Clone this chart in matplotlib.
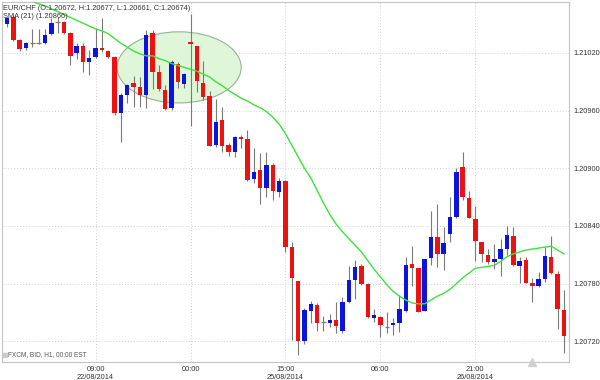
import matplotlib
matplotlib.use("Agg")
import matplotlib.pyplot as plt
import numpy as np
from matplotlib.patches import Ellipse
from matplotlib import font_manager

# pick a condensed font if there is one
_names = {f.name for f in font_manager.fontManager.ttflist}
NARROW = "Liberation Sans Narrow" in _names
FONT = "Liberation Sans Narrow" if NARROW else "Liberation Sans"
plt.rcParams["font.family"] = [FONT, "DejaVu Sans"]
FS = 6.2 if NARROW else 5.3

# ── Data (EUR/CHF, H1 candles) ───────────────────────────────────────────────
opens = [1.21050, 1.21057, 1.21033, 1.21025, 1.21030, 1.21030, 1.21030, 1.21040, 1.21052, 1.21052,
         1.21041, 1.21020, 1.21027, 1.21011, 1.21016, 1.21025, 1.21022, 1.21016, 1.20958, 1.20976,
         1.20989, 1.20985, 1.20976, 1.21041, 1.21000, 1.20981, 1.20963, 1.21008, 1.20988, 1.21031,
         1.21027, 1.20989, 1.20975, 1.20924, 1.20950, 1.20924, 1.20917, 1.20933, 1.20931, 1.20889,
         1.20898, 1.20880, 1.20903, 1.20875, 1.20887, 1.20818, 1.20783, 1.20720, 1.20752, 1.20758,
         1.20740, 1.20739, 1.20742, 1.20731, 1.20761, 1.20784, 1.20798, 1.20780, 1.20744, 1.20745,
         1.20735, 1.20737, 1.20739, 1.20752, 1.20800, 1.20796, 1.20752, 1.20807, 1.20829, 1.20811,
         1.20832, 1.20849, 1.20901, 1.20869, 1.20847, 1.20823, 1.20810, 1.20803, 1.20806, 1.20816,
         1.20830, 1.20798, 1.20805, 1.20781, 1.20778, 1.20785, 1.20808, 1.20790, 1.20753]
highs = [1.21057, 1.21059, 1.21035, 1.21031, 1.21045, 1.21045, 1.21045, 1.21056, 1.21057, 1.21053,
         1.21042, 1.21030, 1.21030, 1.21023, 1.21046, 1.21056, 1.21023, 1.21017, 1.20978, 1.20988,
         1.20996, 1.20995, 1.21044, 1.21044, 1.21007, 1.20987, 1.21013, 1.21011, 1.20999, 1.21060,
         1.21027, 1.21012, 1.20980, 1.20972, 1.20964, 1.20926, 1.20934, 1.20935, 1.20940, 1.20921,
         1.20916, 1.20917, 1.20905, 1.20890, 1.20888, 1.20823, 1.20783, 1.20755, 1.20762, 1.20760,
         1.20746, 1.20748, 1.20761, 1.20766, 1.20798, 1.20805, 1.20800, 1.20781, 1.20754, 1.20746,
         1.20750, 1.20744, 1.20768, 1.20808, 1.20819, 1.20796, 1.20806, 1.20856, 1.20863, 1.20839,
         1.20870, 1.20900, 1.20917, 1.20876, 1.20861, 1.20823, 1.20816, 1.20821, 1.20826, 1.20840,
         1.20839, 1.20808, 1.20808, 1.20786, 1.20792, 1.20818, 1.20830, 1.20793, 1.20773]
lows = [1.21047, 1.21032, 1.21022, 1.21023, 1.21026, 1.21029, 1.21029, 1.21039, 1.21041, 1.21040,
        1.21007, 1.21014, 1.21000, 1.20997, 1.21015, 1.21021, 1.21015, 1.20955, 1.20927, 1.20968,
        1.20964, 1.20964, 1.20963, 1.20983, 1.20980, 1.20961, 1.20961, 1.20984, 1.20984, 1.20944,
        1.20979, 1.20971, 1.20923, 1.20922, 1.20917, 1.20913, 1.20912, 1.20921, 1.20887, 1.20885,
        1.20863, 1.20870, 1.20867, 1.20870, 1.20813, 1.20721, 1.20706, 1.20717, 1.20739, 1.20731,
        1.20731, 1.20735, 1.20729, 1.20729, 1.20760, 1.20764, 1.20779, 1.20744, 1.20740, 1.20725,
        1.20729, 1.20727, 1.20730, 1.20751, 1.20778, 1.20750, 1.20752, 1.20799, 1.20797, 1.20794,
        1.20823, 1.20848, 1.20867, 1.20848, 1.20804, 1.20803, 1.20800, 1.20795, 1.20788, 1.20810,
        1.20798, 1.20781, 1.20781, 1.20761, 1.20777, 1.20782, 1.20790, 1.20733, 1.20708]
closes = [1.21056, 1.21033, 1.21024, 1.21030, 1.21030, 1.21030, 1.21039, 1.21051, 1.21052, 1.21041,
          1.21017, 1.21027, 1.21011, 1.21015, 1.21025, 1.21023, 1.21016, 1.20958, 1.20976, 1.20987,
          1.20985, 1.20976, 1.21039, 1.21000, 1.20982, 1.20962, 1.21011, 1.20990, 1.20998, 1.21029,
          1.20991, 1.20974, 1.20923, 1.20948, 1.20923, 1.20917, 1.20933, 1.20930, 1.20888, 1.20896,
          1.20880, 1.20903, 1.20876, 1.20887, 1.20818, 1.20786, 1.20720, 1.20753, 1.20759, 1.20739,
          1.20740, 1.20742, 1.20736, 1.20761, 1.20784, 1.20797, 1.20780, 1.20745, 1.20747, 1.20737,
          1.20735, 1.20739, 1.20754, 1.20799, 1.20796, 1.20751, 1.20806, 1.20829, 1.20811, 1.20822,
          1.20849, 1.20896, 1.20870, 1.20848, 1.20824, 1.20811, 1.20803, 1.20806, 1.20816, 1.20831,
          1.20799, 1.20804, 1.20781, 1.20778, 1.20785, 1.20809, 1.20791, 1.20754, 1.20726]
sma21 = [np.nan, np.nan, np.nan, np.nan,
         1.21074, 1.21071, 1.21069, 1.21066, 1.21063, 1.21060, 1.21057, 1.21054, 1.21051, 1.21048,
         1.21045, 1.21043, 1.21040, 1.21035, 1.21030, 1.21026, 1.21022, 1.21019, 1.21017, 1.21017,
         1.21014, 1.21012, 1.21009, 1.21007, 1.21005, 1.21003, 1.21001, 1.20998, 1.20995, 1.20990,
         1.20986, 1.20981, 1.20977, 1.20973, 1.20970, 1.20966, 1.20963, 1.20959, 1.20953, 1.20946,
         1.20936, 1.20924, 1.20912, 1.20900, 1.20890, 1.20877, 1.20864, 1.20852, 1.20842, 1.20834,
         1.20827, 1.20820, 1.20813, 1.20804, 1.20795, 1.20787, 1.20779, 1.20772, 1.20767, 1.20763,
         1.20760, 1.20759, 1.20759, 1.20763, 1.20767, 1.20770, 1.20774, 1.20780, 1.20786, 1.20791,
         1.20796, 1.20797, 1.20798, 1.20799, 1.20803, 1.20808, 1.20811, 1.20813, 1.20815, 1.20816,
         1.20817, 1.20818, 1.20819, 1.20815, 1.20811]

tick_candles = [14, 29, 44, 59, 74]
tick_labels = ["09:00\n22/08/2014", "00:00", "15:00\n25/08/2014", "06:00", "21:00\n26/08/2014"]
price_ticks = [1.20720, 1.20780, 1.20840, 1.20900, 1.20960, 1.21020]

# highlighted zone (centre candle, centre price, width in candles, height in price)
zone = (27.2, 1.21005, 19.6, 0.00074)

BLUE = "#0a14dc"
RED = "#ee1111"
WICK = "#7a7a7a"

# ── Plot ─────────────────────────────────────────────────────────────────────
fig = plt.figure(figsize=(6, 3.8), dpi=100)
ax = fig.add_axes([2 / 600, 18 / 380, 567 / 600, 360 / 380])

o = np.array(opens)
h = np.array(highs)
l = np.array(lows)
c = np.array(closes)
x = np.arange(len(o))

ax.add_patch(Ellipse((zone[0], zone[1]), zone[2], zone[3], facecolor="#dcf7d4",
                     edgecolor="#8fa88f", lw=0.8, alpha=0.9, zorder=1))

ax.vlines(x, l, h, color=WICK, lw=0.8, zorder=2)
up = c > o
down = c < o
flat = c == o
ax.bar(x[up], (c - o)[up], bottom=o[up], width=0.7, color=BLUE, zorder=3)
ax.bar(x[down], (o - c)[down], bottom=c[down], width=0.7, color=RED, zorder=3)
ax.hlines(o[flat], x[flat] - 0.35, x[flat] + 0.35, color=WICK, lw=0.9, zorder=3)

ax.plot(x, sma21, color="#3ee03e", lw=1.0, zorder=4)

ax.set_xlim(-0.79, 88.8)
ax.set_ylim(1.206985, 1.21073)

ax.set_xticks(tick_candles)
ax.set_xticklabels(tick_labels, fontsize=FS, color="#333333", linespacing=1.15)
ax.set_yticks(price_ticks)
ax.set_yticklabels([f"{p:.5f}" for p in price_ticks], fontsize=FS, color="#333333")
ax.yaxis.tick_right()
ax.tick_params(axis="both", length=0)
ax.tick_params(axis="x", pad=3)
ax.tick_params(axis="y", pad=3)
ax.grid(True, color="#cfcfcf", ls=(0, (1, 2)), lw=0.7)
ax.set_axisbelow(True)
for s in ax.spines.values():
    s.set_color("#c4c4c4")
    s.set_linewidth(0.8)

# scroll marker under the chart
ax.plot([83], [0.0], marker="^", ms=6, color="#d0d0d0", clip_on=False,
        transform=ax.get_xaxis_transform(), zorder=5)

ax.text(0.002, 0.993, "EUR/CHF (O:1.20672, H:1.20677, L:1.20661, C:1.20674)",
        transform=ax.transAxes, fontsize=FS, color="#333333", va="top", ha="left", zorder=6)
ax.text(0.002, 0.969, "SMA (21) (1.20866)", transform=ax.transAxes,
        fontsize=FS, color="#333333", va="top", ha="left", zorder=6)
ax.text(0.011, 0.012, "FXCM, BID, H1, 00:00 EST", transform=ax.transAxes,
        fontsize=FS - 0.6, color="#555555", va="bottom", ha="left", zorder=6)
ax.plot([0.006], [0.02], marker="s", ms=2.5, color="#cccccc",
        transform=ax.transAxes, zorder=6)

fig.savefig("out.png", dpi=100)
